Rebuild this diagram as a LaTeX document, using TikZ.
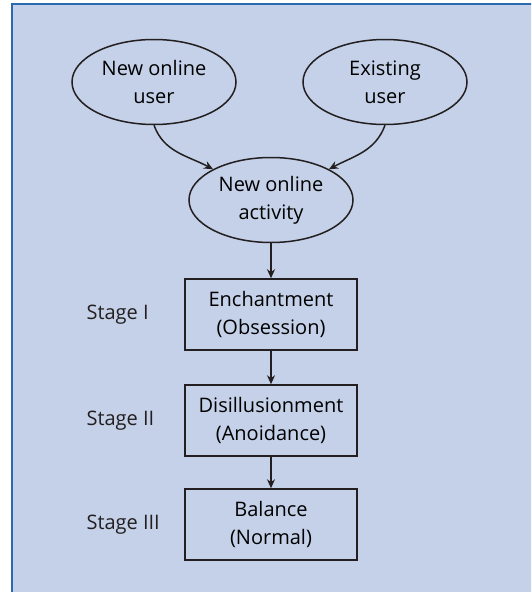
\documentclass[tikz,border=0pt]{standalone}
\usepackage{fontspec}
\setmainfont{Open Sans}
\usetikzlibrary{shapes.geometric,arrows.meta}
\definecolor{panelblue}{HTML}{C4D1E8}
\definecolor{frameblue}{HTML}{2A6AB0}
\definecolor{inkgray}{HTML}{231F20}

\begin{document}
\begin{tikzpicture}[x=1pt,y=1pt,font=\fontsize{20}{28}\selectfont,
  oval/.style={draw=inkgray,line width=1.5pt,ellipse,align=center,inner sep=0pt,minimum width=164pt,minimum height=85pt},
  stagebox/.style={draw=inkgray,line width=1.5pt,rectangle,align=center,inner sep=0pt,minimum width=172pt,minimum height=71pt},
  flow/.style={-{Stealth[length=9pt,width=8pt]},draw=inkgray,line width=1.5pt}]
  \clip (0,0) rectangle (531,-592);
  \fill[panelblue] (12,-4) rectangle (540,-600);
  \draw[frameblue,line width=2.6pt] (12,-600) -- (12,-4) -- (540,-4);
  \node[oval] (nu) at (154,-82) {New online\\user};
  \node[oval] (eu) at (385,-82) {Existing\\user};
  \node[oval] (act) at (271,-200) {New online\\activity};
  \node[stagebox] (s1) at (271,-314.5) {Enchantment\\(Obsession)};
  \node[stagebox] (s2) at (271,-420.5) {Disillusionment\\(Anoidance)};
  \node[stagebox] (s3) at (271,-524.5) {Balance\\(Normal)};
  \node[anchor=west,inkgray] (l1) at (83,-315) {Stage I};
  \node[anchor=west,inkgray] (l2) at (83,-421) {Stage II};
  \node[anchor=west,inkgray] (l3) at (83,-525) {Stage III};
  \draw[flow] (nu.south) to[out=-70,in=152] (act.152);
  \draw[flow] (eu.south) to[out=-110,in=28] (act.28);
  \draw[flow] (act) -- (s1);
  \draw[flow] (s1) -- (s2);
  \draw[flow] (s2) -- (s3);
\end{tikzpicture}
\end{document}
